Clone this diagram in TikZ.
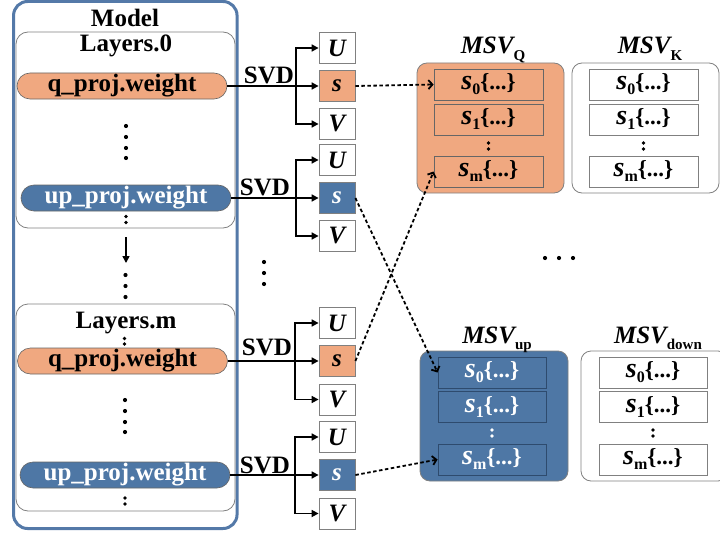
\documentclass[tikz,border=0pt]{standalone}
\usepackage{fontspec}
\setmainfont{Liberation Serif}
\usetikzlibrary{arrows.meta}
\definecolor{orng}{HTML}{F0A880}
\definecolor{blu}{HTML}{4E77A5}
\definecolor{mblue}{HTML}{5479A8}
\definecolor{gbord}{HTML}{808080}
\definecolor{dblu}{HTML}{2E4B6E}
\newcommand{\svx}[1]{{\fontsize{28}{28}\selectfont\itshape s}\raisebox{-5pt}{\fontsize{16}{16}\selectfont #1}{\fontsize{23}{23}\selectfont\{...\}}}
\newcommand{\msvt}[1]{{\itshape MSV}\raisebox{-6pt}{\fontsize{15}{15}\selectfont #1}}
\tikzset{
  lay/.style={draw=gbord, line width=0.8pt, rounded corners=12pt, inner sep=0pt, minimum width=219pt},
  pill/.style={draw=black!60, line width=0.6pt, rounded corners=13pt, inner sep=0pt, minimum width=210pt, minimum height=26pt},
  qpill/.style={pill, fill=orng, text=black},
  upill/.style={pill, fill=blu, text=white},
  vbox/.style={draw=gbord, line width=0.8pt, fill=white, inner sep=0pt, minimum width=36pt, minimum height=31pt, font=\fontsize{25}{27}\selectfont\bfseries\itshape},
  qs/.style={vbox, fill=orng},
  bs/.style={vbox, fill=blu, text=white},
  arr/.style={line width=1.6pt, -{Triangle[length=7pt,width=7pt]}},
  darr/.style={line width=1.8pt, dash pattern=on 3.5pt off 2.5pt, -{Straight Barb[length=4pt,width=9pt,line width=1.8pt]}},
  msvbox/.style={draw=gbord, line width=0.8pt, rounded corners=10pt, inner sep=0pt, minimum width=147pt, minimum height=130pt},
  sbox/.style={draw=black!60, line width=0.8pt, inner sep=0pt, minimum width=109pt, minimum height=31pt},
  ttl/.style={inner sep=0pt, anchor=base}
}
\begin{document}
\begin{tikzpicture}[x=1pt,y=-1pt,font=\fontsize{25}{27}\selectfont\bfseries]
\useasboundingbox (0,0) rectangle (720,535);
% model column
\node[draw=mblue, line width=3pt, rounded corners=14pt, minimum width=223.5pt, minimum height=527pt, inner sep=0pt] (model) at (125.3,265) {};
\node[ttl] (mtitle) at (125,27) {Model};
\node[lay, minimum height=196pt] (lay0) at (125.5,130) {};
\node[ttl] (l0t) at (126,52) {Layers.0};
\node[lay, minimum height=207pt] (laym) at (125.5,407.5) {};
\node[ttl] (lmt) at (126,328) {Layers.m};
\node[qpill] (q0) at (122,86) {q\_proj.weight};
\node[upill] (up0) at (126,198) {up\_proj.weight};
\node[qpill] (qm) at (122.5,361) {q\_proj.weight};
\node[upill] (upm) at (125,475) {up\_proj.weight};
% dots in model column
\foreach \y in {126,137,148,158} \fill (126,\y) circle (2.1pt);
\foreach \y in {216.5,222.5} \fill (126,\y) circle (1.8pt);
\coordinate (da) at (126,237);
\coordinate (db) at (126,263);
\draw[arr] (da) -- (db);
\foreach \y in {275,286,297} \fill (125.5,\y) circle (2.1pt);
\foreach \y in {338.5,344} \fill (124.5,\y) circle (1.8pt);
\foreach \y in {400,411,422,432} \fill (125,\y) circle (2.1pt);
\foreach \y in {498,504} \fill (125,\y) circle (1.8pt);
% SVD branches
\node[vbox] (u1) at (337,48) {U};
\node[qs] (s1) at (337,86) {s};
\node[vbox] (v1) at (337,124) {V};
\node[vbox] (u2) at (337,160) {U};
\node[bs] (s2) at (337,198) {s};
\node[vbox] (v2) at (337,236) {V};
\node[vbox] (u3) at (337,323) {U};
\node[qs] (s3) at (337,361) {s};
\node[vbox] (v3) at (337,399.5) {V};
\node[vbox] (u4) at (337,437) {U};
\node[bs] (s4) at (337,475) {s};
\node[vbox] (v4) at (337,513.5) {V};
\node[ttl] (svd1) at (269,83) {SVD};
\node[ttl] (svd2) at (265,195) {SVD};
\node[ttl] (svd3) at (267,355) {SVD};
\node[ttl] (svd4) at (265,473) {SVD};
\coordinate (j1) at (296,86);
\coordinate (j2) at (296,198);
\coordinate (j3) at (295,361);
\coordinate (j4) at (295,475);
\draw[arr] (q0.east) -- (s1.west);
\draw[arr] (j1) |- (u1.west);
\draw[arr] (j1) |- (v1.west);
\draw[arr] (up0.east) -- (s2.west);
\draw[arr] (j2) |- (u2.west);
\draw[arr] (j2) |- (v2.west);
\draw[arr] (qm.east) -- (s3.west);
\draw[arr] (j3) |- (u3.west);
\draw[arr] (j3) |- (v3.west);
\draw[arr] (upm.east) -- (s4.west);
\draw[arr] (j4) |- (u4.west);
\draw[arr] (j4) |- (v4.west);
\foreach \y in {262,273,284} \fill (264,\y) circle (2.1pt);
% MSV boxes
\node[msvbox, fill=orng] (mq) at (490.5,128) {};
\node[ttl] (mqt) at (493,54) {\msvt{Q}};
\node[sbox] (mq0) at (488.5,84.5) {\svx{0}};
\node[sbox] (mq1) at (488.5,119.5) {\svx{1}};
\node[sbox] (mqm) at (488.5,171.5) {\svx{m}};
\foreach \y in {143,149} \fill (488.5,\y) circle (1.8pt);
\node[msvbox, fill=white] (mk) at (645.5,128) {};
\node[ttl] (mkt) at (650,54) {\msvt{K}};
\node[sbox, draw=gbord] (mk0) at (643.5,84.5) {\svx{0}};
\node[sbox, draw=gbord] (mk1) at (643.5,119.5) {\svx{1}};
\node[sbox, draw=gbord] (mkm) at (643.5,171.5) {\svx{m}};
\foreach \y in {143,149} \fill (643.5,\y) circle (1.8pt);
\node[msvbox, fill=blu, minimum width=148pt] (mu) at (494,416) {};
\node[ttl] (mut) at (497,343) {\msvt{up}};
\node[sbox, draw=dblu, minimum width=108pt, text=white] (mu0) at (492,372.5) {\svx{0}};
\node[sbox, draw=dblu, minimum width=108pt, text=white] (mu1) at (492,407) {\svx{1}};
\node[sbox, draw=dblu, minimum width=108pt, text=white] (mum) at (492,459.5) {\svx{m}};
\foreach \y in {430,436} \fill[white] (492,\y) circle (1.8pt);
\node[msvbox, fill=white] (md) at (654.5,416) {};
\node[ttl] (mdt) at (658,343) {\msvt{down}};
\node[sbox, draw=gbord, minimum width=108pt] (md0) at (653,372.5) {\svx{0}};
\node[sbox, draw=gbord, minimum width=108pt] (md1) at (653,407) {\svx{1}};
\node[sbox, draw=gbord, minimum width=108pt] (mdm) at (653,459.5) {\svx{m}};
\foreach \y in {430,436} \fill (653,\y) circle (1.8pt);
\foreach \x in {545,559,573} \fill (\x,258) circle (2.1pt);
% dashed connectors
\draw[darr] (s1.east) -- (mq0.west);
\draw[darr] (s2.east) -- (mu0.west);
\draw[darr] (s3.east) -- (mqm.west);
\draw[darr] (s4.east) -- (mum.west);
\end{tikzpicture}
\end{document}
